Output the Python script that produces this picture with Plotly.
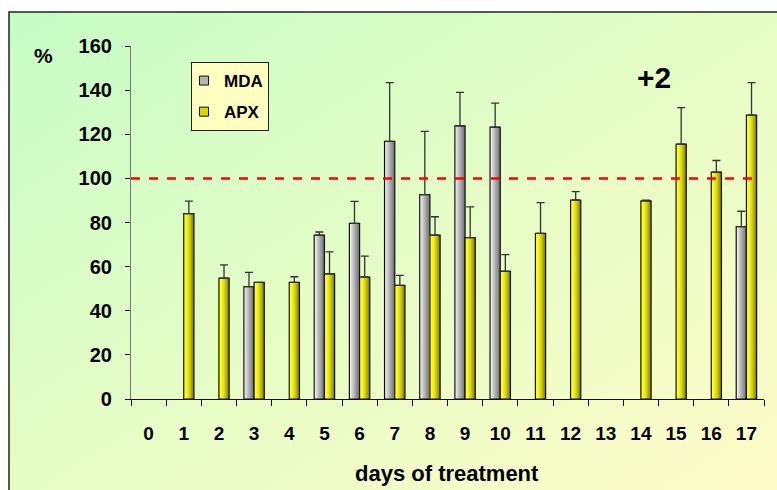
import base64
import plotly.graph_objects as go

# ---------------- data ----------------
days = [str(d) for d in range(18)]
mda = [None, None, None, 50.9, None, 74.3, 79.6, 116.8, 92.6, 123.8, 123.2,
       None, None, None, None, None, None, 78.1]
mda_err = [0, 0, 0, 6.5, 0, 1.4, 10.0, 26.6, 28.7, 15.2, 10.9,
           0, 0, 0, 0, 0, 0, 7.0]
apx = [None, 84.0, 54.8, 52.9, 52.9, 56.7, 55.3, 51.5, 74.3, 73.1, 57.9,
       75.1, 90.2, None, 89.8, 115.5, 102.8, 128.7]
apx_err = [0, 5.7, 6.0, 0, 2.5, 10.0, 9.5, 4.5, 8.3, 14.0, 7.5,
           13.9, 3.8, 0, 0.3, 16.6, 5.3, 14.7]
y_ticks = [0, 20, 40, 60, 80, 100, 120, 140, 160]
reference_level = 100
series_names = ["MDA", "APX"]

# ---------------- style ----------------
FONT = "Liberation Sans, Arial, sans-serif"
BAR_W = 0.29
K = 10  # gradient steps


def lerp(c1, c2, t):
    return "rgb(%d,%d,%d)" % tuple(round(a + (b - a) * t) for a, b in zip(c1, c2))


gray_light, gray_dark = (240, 240, 240), (115, 115, 115)
yel_light, yel_dark = (255, 255, 40), (125, 125, 0)

fig = go.Figure()


def add_series(values, errs, offset, light, dark, gamma):
    for i in range(K):
        p = K - i - 1  # position from left (0 = leftmost)
        t = (p / (K - 1)) ** gamma
        fig.add_trace(go.Bar(
            x=days, y=values, offset=offset, width=BAR_W * (K - i) / K,
            marker=dict(color=lerp(light, dark, t), line=dict(width=0)),
            showlegend=False, hoverinfo="skip"))
    fig.add_trace(go.Bar(
        x=days, y=values, offset=offset, width=BAR_W,
        marker=dict(color="rgba(0,0,0,0)", line=dict(color="#111", width=1.2)),
        error_y=dict(type="data", symmetric=False, array=errs,
                     arrayminus=[0] * len(errs), color="#333",
                     thickness=1.3, width=4),
        showlegend=False))


add_series(mda, mda_err, -BAR_W, gray_light, gray_dark, 1.0)
add_series(apx, apx_err, 0.0, yel_light, yel_dark, 1.8)

# legend-only entries
for name, col, grp in [("MDA", "#b4b4b4", "a"), ("APX", "#d8d800", "b")]:
    fig.add_trace(go.Scatter(
        x=[None], y=[None], mode="markers", name=name, legendgroup=grp,
        marker=dict(symbol="square", size=9, color=col,
                    line=dict(color="#111", width=1))))

# background gradient (decorative)
svg = ('<svg xmlns="http://www.w3.org/2000/svg" width="100" height="100" '
       'preserveAspectRatio="none" viewBox="0 0 100 100">'
       '<defs><linearGradient id="g" x1="0" y1="0" x2="1" y2="1">'
       '<stop offset="0" stop-color="#c6fcc6"/>'
       '<stop offset="0.5" stop-color="#e6fcc6"/>'
       '<stop offset="1" stop-color="#fffcc8"/></linearGradient></defs>'
       '<rect width="100" height="100" fill="url(#g)"/></svg>')
src = "data:image/svg+xml;base64," + base64.b64encode(svg.encode()).decode()

W, H = 777, 490
L, R, T, B = 131, 13, 46, 91
pw, ph = W - L - R, H - T - B


def px(x):
    return (x - L) / pw


def py(y):
    return (H - B - y) / ph


fig.add_layout_image(dict(source=src, xref="paper", yref="paper",
                          x=px(9), y=py(12), sizex=(W + 10 - 9) / pw,
                          sizey=(H + 10 - 12) / ph, xanchor="left",
                          yanchor="top", sizing="stretch", layer="below"))
fig.add_shape(type="rect", xref="paper", yref="paper",
              x0=px(9), y0=py(H + 10), x1=px(W + 10), y1=py(12),
              line=dict(color="#222", width=1.5), layer="below")

# reference dashed line
fig.add_shape(type="line", xref="paper", yref="y", x0=0, x1=0.99,
              y0=reference_level, y1=reference_level,
              line=dict(color="#ff0000", width=2.5, dash="dash"))

ann_font = dict(family=FONT, color="black", weight="bold")
fig.add_annotation(text="%", xref="paper", yref="paper", x=px(43), y=py(56),
                   xanchor="center", yanchor="middle", showarrow=False,
                   font=dict(ann_font, size=21))
fig.add_annotation(text="+2", xref="paper", yref="paper", x=px(654), y=py(77),
                   xanchor="center", yanchor="middle", showarrow=False,
                   font=dict(ann_font, size=30))
fig.add_annotation(text="days of treatment", xref="paper", yref="paper",
                   x=px(447), y=py(473), xanchor="center", yanchor="middle",
                   showarrow=False, font=dict(ann_font, size=22))

fig.update_layout(
    width=W, height=H, margin=dict(l=L, r=R, t=T, b=B),
    paper_bgcolor="white", plot_bgcolor="white",
    barmode="overlay", showlegend=True,
    legend=dict(x=px(191), y=py(62), xanchor="left", yanchor="top",
                bgcolor="#ffffc0", bordercolor="#222", borderwidth=1,
                font=dict(family=FONT, size=17, color="black", weight="bold"),
                traceorder="grouped", tracegroupgap=6, indentation=-8,
                itemwidth=30),
    xaxis=dict(type="category", categoryorder="array", categoryarray=days,
               range=[-0.5, 17.5], showgrid=False, showline=True,
               linecolor="#111", linewidth=1.2, ticks="outside",
               tickson="boundaries", ticklen=6, tickcolor="#111",
               ticklabelstandoff=17,
               tickfont=dict(family=FONT, size=19, color="black", weight="bold")),
    yaxis=dict(range=[0, 160], tickvals=y_ticks, showgrid=False, showline=True,
               linecolor="#777", linewidth=1.2, ticks="outside", ticklen=5,
               tickcolor="#111", zeroline=False, ticklabelstandoff=9,
               tickfont=dict(family=FONT, size=20, color="black", weight="bold")),
)

fig.write_html("out.html")
